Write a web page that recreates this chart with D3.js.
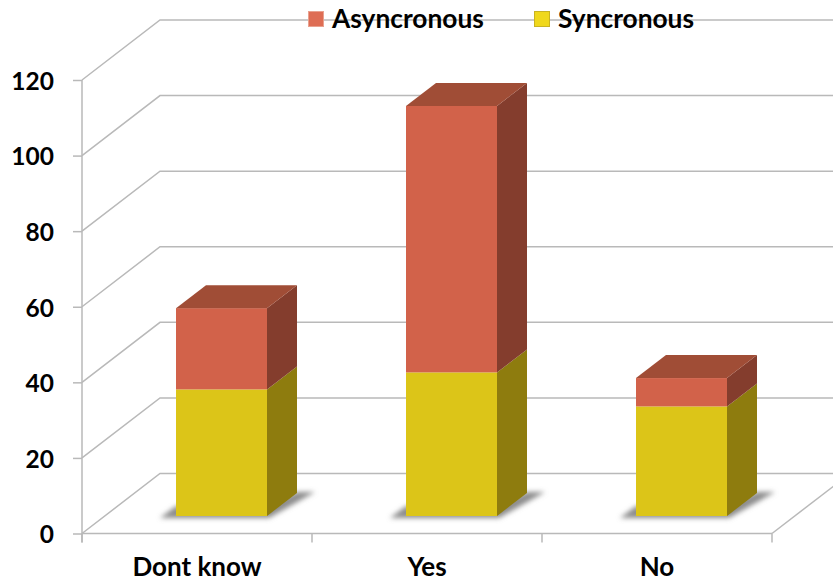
<!DOCTYPE html>
<html>
<head>
<meta charset="utf-8">
<script src="https://cdnjs.cloudflare.com/ajax/libs/d3/7.8.5/d3.min.js"></script>
<style>
html, body { margin: 0; padding: 0; background: #fff; }
svg { display: block; }
text { font-family: Lato, "Open Sans", sans-serif; fill: #000; }
</style>
</head>
<body>
<svg id="chart" width="833" height="581"></svg>
<script>
const categories = ["Dont know", "Yes", "No"];
const seriesNames = ["Syncronous", "Asyncronous"];
const syncronous = [33.5, 38, 29];
const asyncronous = [21.5, 70.5, 7.5];
const yTicks = [0, 20, 40, 60, 80, 100, 120];

const width = 833, height = 581;
const plot = { left: 82, right: 772, bottom: 533.5, top: 80 };
const wall = { dx: 78, dy: -60 };       // offset of the back wall from the front plane
const box = { dx: 30, dy: -23, width: 91, inset: 24.5, lift: 17.5 };
const gridColor = "#b9b9b9";

const palette = {
  Syncronous: { front: "#dcc518", top: "#b09c10", side: "#8e7c0e", swatch: "#f0d81c", rim: "#c9b322" },
  Asyncronous: { front: "#d2624a", top: "#a04d36", side: "#843d2d", swatch: "#de6d54", rim: "#e9a18f" }
};

const svg = d3.select("#chart");
const x = d3.scaleBand().domain(categories).range([plot.left, plot.right]);
const y = d3.scaleLinear().domain([0, 120]).range([plot.bottom, plot.top]);
const unit = y(0) - y(1);

const defs = svg.append("defs");
defs.append("filter").attr("id", "floorShadow")
  .attr("x", "-20%").attr("y", "-60%").attr("width", "140%").attr("height", "220%")
  .append("feGaussianBlur").attr("stdDeviation", 2.4);

// Back wall lines with their receding segments on the side wall
const grid = svg.append("g").attr("fill", "none").attr("stroke", gridColor).attr("stroke-width", 1.5);
grid.selectAll("path").data(yTicks).join("path")
  .attr("d", d => d3.line()([
    [plot.left, y(d)],
    [plot.left + wall.dx, y(d) + wall.dy],
    [width, y(d) + wall.dy]
  ]));

// Floor edge running back from the last category
grid.append("path").attr("d", d3.line()([
  [plot.right, plot.bottom],
  [plot.right + wall.dx, plot.bottom + wall.dy]
]));

// Value axis
const yAxis = svg.append("g")
  .attr("transform", `translate(${plot.left},0)`)
  .call(d3.axisLeft(y).tickValues(yTicks).tickSize(9).tickPadding(19));
yAxis.selectAll("line").attr("stroke", gridColor).attr("stroke-width", 1.5);
yAxis.select(".domain").attr("stroke", gridColor).attr("stroke-width", 1.5)
  .attr("d", `M0,${plot.top}V${plot.bottom + 9}`);
yAxis.selectAll("text")
  .attr("y", 1.5)
  .attr("font-size", 24.5).attr("font-weight", 700).style("font-family", "Lato").attr("fill", "#000");

// Category axis: labels sit mid-band, ticks on the band edges
const xAxis = svg.append("g")
  .attr("transform", `translate(0,${plot.bottom})`)
  .call(d3.axisBottom(x).tickSize(0).tickPadding(24));
xAxis.select(".domain").attr("stroke", gridColor).attr("stroke-width", 1.5)
  .attr("d", `M${plot.left},0H${plot.right}`);
xAxis.selectAll("text")
  .attr("font-size", 26).attr("font-weight", 700).style("font-family", "Lato").attr("fill", "#000");
xAxis.selectAll(".edge")
  .data(categories.map(c => x(c)).concat(plot.right))
  .join("line").attr("class", "edge")
  .attr("x1", d => d).attr("x2", d => d).attr("y1", 0).attr("y2", 9)
  .attr("stroke", gridColor).attr("stroke-width", 1.5);

// Floor shadows under each column
const baseY = plot.bottom - box.lift;
const barX = c => x(c) + (x.bandwidth() - box.width) / 2 + box.inset;
svg.append("g").selectAll("path").data(categories).join("path")
  .attr("fill", "#8c8c8c").attr("filter", "url(#floorShadow)")
  .attr("d", c => {
    const l = barX(c), r = l + box.width;
    return d3.line()([
      [l - 16, baseY + 2], [l, baseY - 10], [r, baseY - 10],
      [r + box.dx, baseY + box.dy - 1], [r + box.dx + 18, baseY + box.dy - 1],
      [r + 2, baseY + 2]
    ]);
  });

// Stacked 3D columns
const columns = categories.map((c, i) => ({
  c,
  parts: [
    { name: seriesNames[0], from: 0, to: syncronous[i] },
    { name: seriesNames[1], from: syncronous[i], to: syncronous[i] + asyncronous[i] }
  ]
}));

const bars = svg.append("g").selectAll("g").data(columns).join("g");
bars.each(function (col) {
  const g = d3.select(this);
  const l = barX(col.c), r = l + box.width;
  col.parts.forEach(p => {
    const lo = baseY - p.from * unit, hi = baseY - p.to * unit;
    const tone = palette[p.name];
    g.append("path").attr("fill", tone.side).attr("d", d3.line()([
      [r, hi], [r + box.dx, hi + box.dy], [r + box.dx, lo + box.dy], [r, lo]
    ]));
    g.append("rect").attr("x", l).attr("y", hi)
      .attr("width", box.width).attr("height", lo - hi).attr("fill", tone.front);
    if (p === col.parts[col.parts.length - 1]) {
      g.append("path").attr("fill", tone.top).attr("d", d3.line()([
        [l, hi], [l + box.dx, hi + box.dy], [r + box.dx, hi + box.dy], [r, hi]
      ]));
    }
  });
});

// Legend
const legendItems = [
  { name: "Asyncronous", swatch: 308, label: 332 },
  { name: "Syncronous", swatch: 534, label: 558 }
];
const legend = svg.append("g").selectAll("g").data(legendItems).join("g");
legend.append("rect")
  .attr("x", d => d.swatch + 0.5).attr("y", 11.5).attr("width", 15).attr("height", 15)
  .attr("fill", d => palette[d.name].swatch)
  .attr("stroke", d => palette[d.name].rim).attr("stroke-width", 1);
legend.append("text")
  .attr("x", d => d.label).attr("y", 28)
  .attr("font-size", 26.3).attr("font-weight", 700)
  .text(d => d.name);
</script>
</body>
</html>
